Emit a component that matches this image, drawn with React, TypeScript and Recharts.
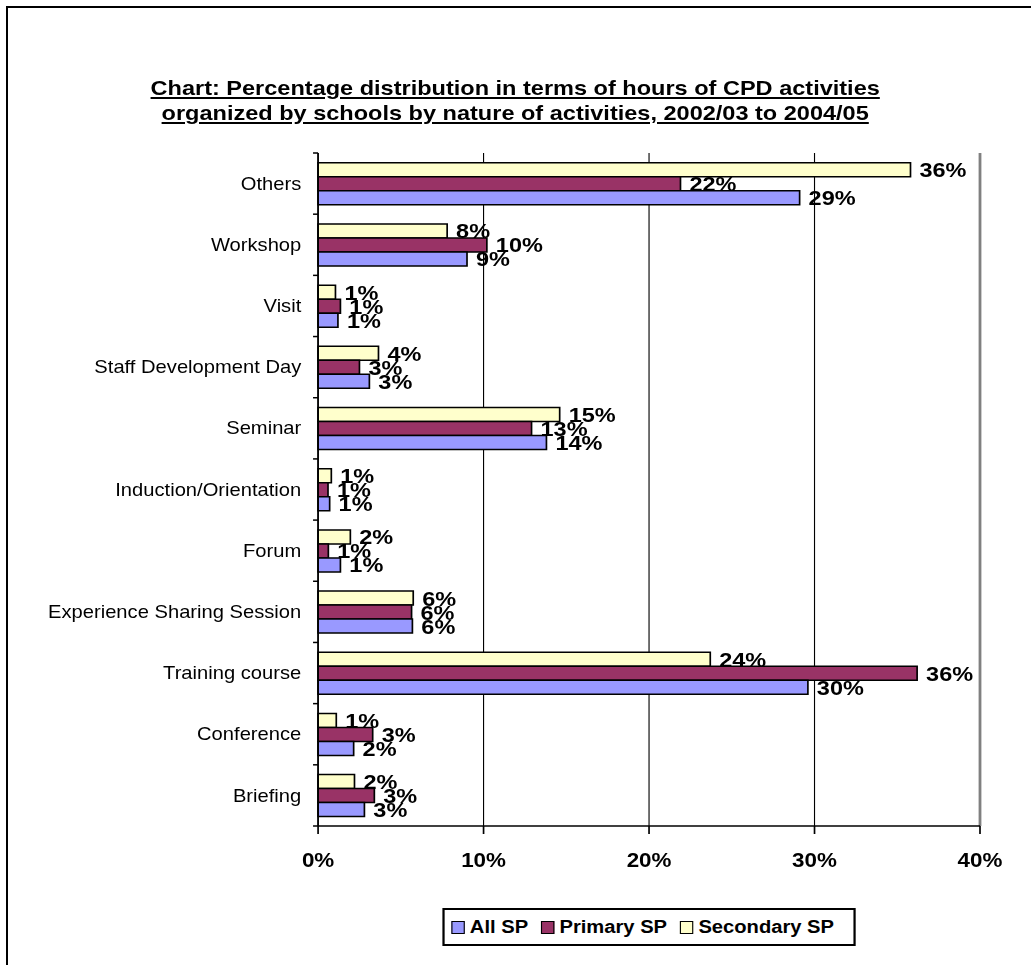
import React from 'react';
import {
  BarChart,
  Bar,
  XAxis,
  YAxis,
  CartesianGrid,
  LabelList,
  ReferenceLine,
} from 'recharts';

const categories = [
  'Others',
  'Workshop',
  'Visit',
  'Staff Development Day',
  'Seminar',
  'Induction/Orientation',
  'Forum',
  'Experience Sharing Session',
  'Training course',
  'Conference',
  'Briefing',
];
const allSP = [29.1, 9.0, 1.2, 3.1, 13.8, 0.7, 1.35, 5.7, 29.6, 2.15, 2.8];
const primarySP = [21.9, 10.2, 1.35, 2.5, 12.9, 0.6, 0.62, 5.65, 36.2, 3.3, 3.4];
const secondarySP = [35.8, 7.8, 1.05, 3.65, 14.6, 0.8, 1.95, 5.75, 23.7, 1.1, 2.2];
const xTicks = [0, 10, 20, 30, 40];
const seriesNames = ['All SP', 'Primary SP', 'Secondary SP'];
const seriesColors = ['#9999FF', '#993366', '#FFFFCC'];

const data = categories.map((name, i) => ({
  name,
  all: allSP[i],
  pri: primarySP[i],
  sec: secondarySP[i],
}));

const FONT = "'Liberation Sans', Arial, Helvetica, sans-serif";
const STRETCH = 1.12;
const W = 920;
const H = 965;
const PLOT_LEFT = 284;
const PLOT_RIGHT = 875;
const PLOT_TOP = 153;
const PLOT_BOTTOM = 826;
const XAXIS_H = 40;
const BAND = (PLOT_BOTTOM - PLOT_TOP) / categories.length;

const fmt = (v: any) => `${Math.round(Number(v))}%`;

const YTick = (props: any) => {
  const { x, y, payload, index } = props;
  const half = BAND / 2;
  return (
    <g>
      <text
        x={x - 15}
        y={y}
        textAnchor="end"
        dominantBaseline="central"
        fontSize={18}
        fontFamily={FONT}
        fill="#000"
      >
        {payload.value}
      </text>
      <line x1={x - 4.5} x2={x} y1={y - half} y2={y - half} stroke="#000" strokeWidth={1.5} />
      {index === categories.length - 1 && (
        <line x1={x - 4.5} x2={x} y1={y + half} y2={y + half} stroke="#000" strokeWidth={1.5} />
      )}
    </g>
  );
};

const labelProps = {
  position: 'right' as const,
  offset: 8,
  formatter: fmt,
  fill: '#000',
  fontSize: 21,
  fontWeight: 'bold',
  fontFamily: FONT,
};

export default function App() {
  return (
    <div
      style={{
        position: 'absolute',
        left: 0,
        top: 0,
        width: 1031,
        height: 965,
        overflow: 'hidden',
        background: '#fff',
      }}
    >
      <div
        style={{
          position: 'absolute',
          left: 6,
          top: 6,
          width: 1030,
          height: 965,
          borderLeft: '2px solid #000',
          borderTop: '2px solid #000',
          boxSizing: 'border-box',
        }}
      />
      <div
        style={{
          position: 'absolute',
          left: 0,
          top: 0,
          width: W,
          height: H,
          transform: `scaleX(${STRETCH})`,
          transformOrigin: '0 0',
        }}
      >
        <div
          style={{
            position: 'absolute',
            left: 0,
            top: 75,
            width: W,
            textAlign: 'center',
            fontFamily: FONT,
            fontWeight: 'bold',
            fontSize: 21,
            lineHeight: '25px',
            textDecoration: 'underline',
            color: '#000',
          }}
        >
          <div>Chart: Percentage distribution in terms of hours of CPD activities </div>
          <div>organized by schools by nature of activities, 2002/03 to 2004/05</div>
        </div>

        <BarChart
          width={W}
          height={H}
          data={data}
          layout="vertical"
          margin={{
            top: PLOT_TOP,
            right: W - PLOT_RIGHT,
            left: 0,
            bottom: H - PLOT_BOTTOM - XAXIS_H,
          }}
          barCategoryGap="16%"
          barGap={0}
        >
          <CartesianGrid horizontal={false} vertical stroke="#000" strokeWidth={1} />
          <XAxis
            type="number"
            domain={[0, 40]}
            ticks={xTicks}
            tickFormatter={(v: number) => `${v}%`}
            height={XAXIS_H}
            axisLine={{ stroke: '#000', strokeWidth: 1.5 }}
            tickLine={{ stroke: '#000', strokeWidth: 1.5 }}
            tickSize={8}
            tickMargin={19}
            tick={{ fill: '#000', fontSize: 20, fontWeight: 'bold', fontFamily: FONT }}
            interval={0}
          />
          <YAxis
            type="category"
            dataKey="name"
            width={PLOT_LEFT}
            axisLine={{ stroke: '#000', strokeWidth: 1.5 }}
            tickLine={false}
            tickSize={0}
            tickMargin={0}
            interval={0}
            tick={<YTick />}
          />
          <ReferenceLine x={40} stroke="#808080" strokeWidth={2.5} />
          <Bar dataKey="sec" name={seriesNames[2]} fill={seriesColors[2]} stroke="#000" strokeWidth={1.5} isAnimationActive={false}>
            <LabelList dataKey="sec" {...labelProps} />
          </Bar>
          <Bar dataKey="pri" name={seriesNames[1]} fill={seriesColors[1]} stroke="#000" strokeWidth={1.5} isAnimationActive={false}>
            <LabelList dataKey="pri" {...labelProps} />
          </Bar>
          <Bar dataKey="all" name={seriesNames[0]} fill={seriesColors[0]} stroke="#000" strokeWidth={1.5} isAnimationActive={false}>
            <LabelList dataKey="all" {...labelProps} />
          </Bar>
        </BarChart>

        <div
          style={{
            position: 'absolute',
            left: 394.5,
            top: 908,
            width: 369,
            height: 38,
            border: '2px solid #000',
            boxSizing: 'border-box',
            display: 'flex',
            alignItems: 'center',
            paddingLeft: 6,
            fontFamily: FONT,
            fontWeight: 'bold',
            fontSize: 18,
            color: '#000',
            background: '#fff',
          }}
        >
          {seriesNames.map((n, i) => (
            <div key={n} style={{ display: 'flex', alignItems: 'center', marginRight: 11 }}>
              <span
                style={{
                  display: 'inline-block',
                  width: 12,
                  height: 13,
                  background: seriesColors[i],
                  border: '1.5px solid #000',
                  boxSizing: 'border-box',
                  marginRight: 5,
                }}
              />
              <span>{n}</span>
            </div>
          ))}
        </div>
      </div>
    </div>
  );
}
